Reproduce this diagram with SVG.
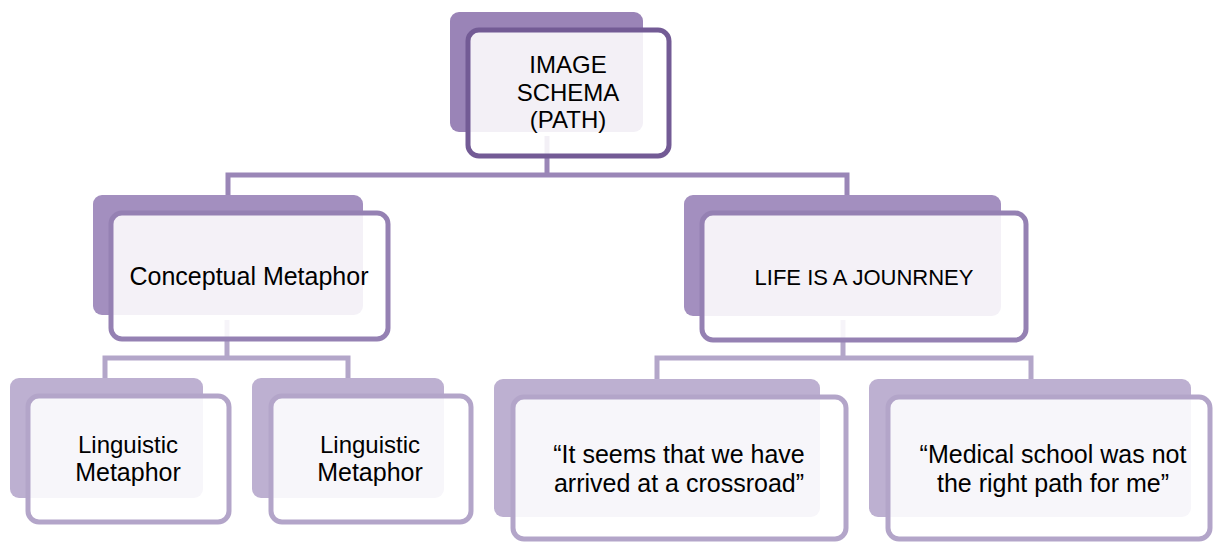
<svg xmlns="http://www.w3.org/2000/svg" width="1213" height="542" viewBox="0 0 1213 542">
<style>
.t{font-family:"Liberation Sans",Arial,sans-serif;font-size:24px;fill:#000;text-anchor:middle}
.l{font-size:25px}
.front{fill:#fff;fill-opacity:0.88;stroke-width:5}
.c1{fill:none;stroke:#9a86b7;stroke-width:5}
.c2{fill:none;stroke:#b3a6c9;stroke-width:5}
.b1{fill:#9a84b7}.s1{stroke:#735b95}
.b2{fill:#a38fbf}.s2{stroke:#9581b3}
.b3{fill:#bdb0d1}.s3{stroke:#b3a5c9}
</style>
<rect width="1213" height="542" fill="#fff"/>
<g id="connectors">
<path class="c1" d="M547 136V175M228 195V175H847V195"/>
<path class="c2" d="M227 320V358M105 379V358H348V379"/>
<path class="c2" d="M843 320V358M657 379V358H1031V379"/>
</g>
<g id="node-image-schema">
<rect class="b1" x="450" y="12" width="193" height="120" rx="9"/>
<rect class="front s1" x="468" y="30" width="201" height="126" rx="11"/>
<text class="t" x="568" y="73">IMAGE</text>
<text class="t" x="568" y="101">SCHEMA</text>
<text class="t" x="568" y="128">(PATH)</text>
</g>
<g id="node-conceptual">
<rect class="b2" x="93" y="195" width="270" height="120" rx="9"/>
<rect class="front s2" x="111" y="213" width="277" height="126" rx="11"/>
<text class="t l" x="249" y="285">Conceptual Metaphor</text>
</g>
<g id="node-life">
<rect class="b2" x="684" y="195" width="317" height="121" rx="9"/>
<rect class="front s2" x="702" y="213" width="324" height="127" rx="11"/>
<text class="t" x="864" y="285" style="font-size:22px">LIFE IS A JOUNRNEY</text>
</g>
<g id="node-ling1">
<rect class="b3" x="10" y="378" width="193" height="120" rx="9"/>
<rect class="front s3" x="28" y="396" width="201" height="126" rx="11"/>
<text class="t" x="128" y="453">Linguistic</text>
<text class="t l" x="128" y="481">Metaphor</text>
</g>
<g id="node-ling2">
<rect class="b3" x="252" y="378" width="192" height="120" rx="9"/>
<rect class="front s3" x="271" y="396" width="200" height="126" rx="11"/>
<text class="t" x="370" y="453">Linguistic</text>
<text class="t l" x="370" y="481">Metaphor</text>
</g>
<g id="node-crossroad">
<rect class="b3" x="494" y="379" width="326" height="138" rx="9"/>
<rect class="front s3" x="513" y="397" width="333" height="142" rx="11"/>
<text class="t l" x="679" y="463">“It seems that we have</text>
<text class="t l" x="679" y="492">arrived at a crossroad”</text>
</g>
<g id="node-medical">
<rect class="b3" x="869" y="379" width="322" height="138" rx="9"/>
<rect class="front s3" x="888" y="397" width="322" height="142" rx="11"/>
<text class="t l" x="1053" y="463">“Medical school was not</text>
<text class="t l" x="1053" y="492">the right path for me”</text>
</g>
</svg>
